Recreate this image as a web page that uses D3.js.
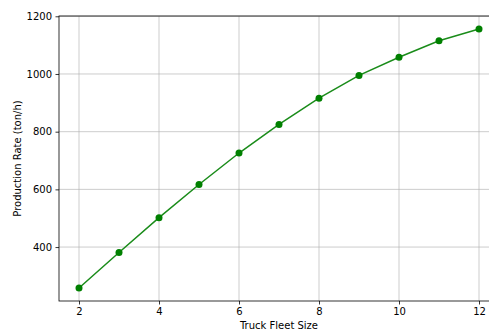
<!DOCTYPE html>
<html>
<head>
<meta charset="utf-8">
<script src="https://cdn.jsdelivr.net/npm/d3@7"></script>
<style>
  body { margin: 0; background: #fff; }
  svg { display: block; overflow: hidden; }
  text { font-family: "DejaVu Sans", sans-serif; }
</style>
</head>
<body>
<div id="chart"></div>
<script>
// data
const fleetSize = [2, 3, 4, 5, 6, 7, 8, 9, 10, 11, 12];
const productionRate = [258, 381, 502, 617, 726, 825, 916, 995, 1058, 1115, 1156];
const xTicks = [2, 4, 6, 8, 10, 12];
const yTicks = [400, 600, 800, 1000, 1200];

let margin = { top: 16, left: 59, right: -10, bottom: 30 },
  W = 489, H = 331,
  width = W - margin.left - margin.right,
  height = H - margin.top - margin.bottom;

let svg = d3.select('#chart').append('svg')
  .attr('width', W)
  .attr('height', H);

let g = svg.append('g').attr('transform', `translate(${margin.left},${margin.top})`);

const x = d3.scaleLinear().domain([1.5, 12.5]).range([0, width]);
const y = d3.scaleLinear().domain([213, 1201]).range([height, 0]);

// grid
g.append('g').selectAll('line').data(xTicks).enter().append('line')
  .attr('x1', d => x(d)).attr('x2', d => x(d))
  .attr('y1', 0).attr('y2', height)
  .attr('stroke', '#b0b0b0').attr('stroke-opacity', 0.7).attr('stroke-width', 0.9);
g.append('g').selectAll('line').data(yTicks).enter().append('line')
  .attr('x1', 0).attr('x2', width)
  .attr('y1', d => y(d)).attr('y2', d => y(d))
  .attr('stroke', '#b0b0b0').attr('stroke-opacity', 0.7).attr('stroke-width', 0.9);

// axes
const xAxis = g.append('g')
  .attr('transform', `translate(0,${height})`)
  .call(d3.axisBottom(x).tickValues(xTicks).tickSize(3.5).tickPadding(3.5).tickFormat(d3.format('d')));
const yAxis = g.append('g')
  .call(d3.axisLeft(y).tickValues(yTicks).tickSize(3.5).tickPadding(3.5).tickFormat(d3.format('d')));
[xAxis, yAxis].forEach(a => {
  a.select('.domain').remove();
  a.selectAll('line').attr('stroke', '#000').attr('stroke-width', 0.8);
  a.selectAll('text').attr('fill', '#000').style('font-size', '10px').style('font-family', 'DejaVu Sans');
});

// spines
g.append('rect')
  .attr('x', 0).attr('y', 0).attr('width', width).attr('height', height)
  .attr('fill', 'none').attr('stroke', '#000').attr('stroke-width', 0.8);

// line + markers
const line = d3.line().x((d, i) => x(fleetSize[i])).y(d => y(d));
g.append('path').datum(productionRate)
  .attr('d', line)
  .attr('fill', 'none').attr('stroke', '#1a8c1a').attr('stroke-width', 1.5);
g.selectAll('circle.pt').data(productionRate).enter().append('circle')
  .attr('class', 'pt')
  .attr('cx', (d, i) => x(fleetSize[i]))
  .attr('cy', d => y(d))
  .attr('r', 3.5)
  .attr('fill', '#008000');

// labels
svg.append('text')
  .attr('x', margin.left + width / 2).attr('y', 329)
  .attr('text-anchor', 'middle')
  .style('font-size', '10px')
  .text('Truck Fleet Size');
svg.append('text')
  .attr('transform', `translate(21,${margin.top + height / 2}) rotate(-90)`)
  .attr('text-anchor', 'middle')
  .style('font-size', '10px')
  .text('Production Rate (ton/h)');
</script>
</body>
</html>
